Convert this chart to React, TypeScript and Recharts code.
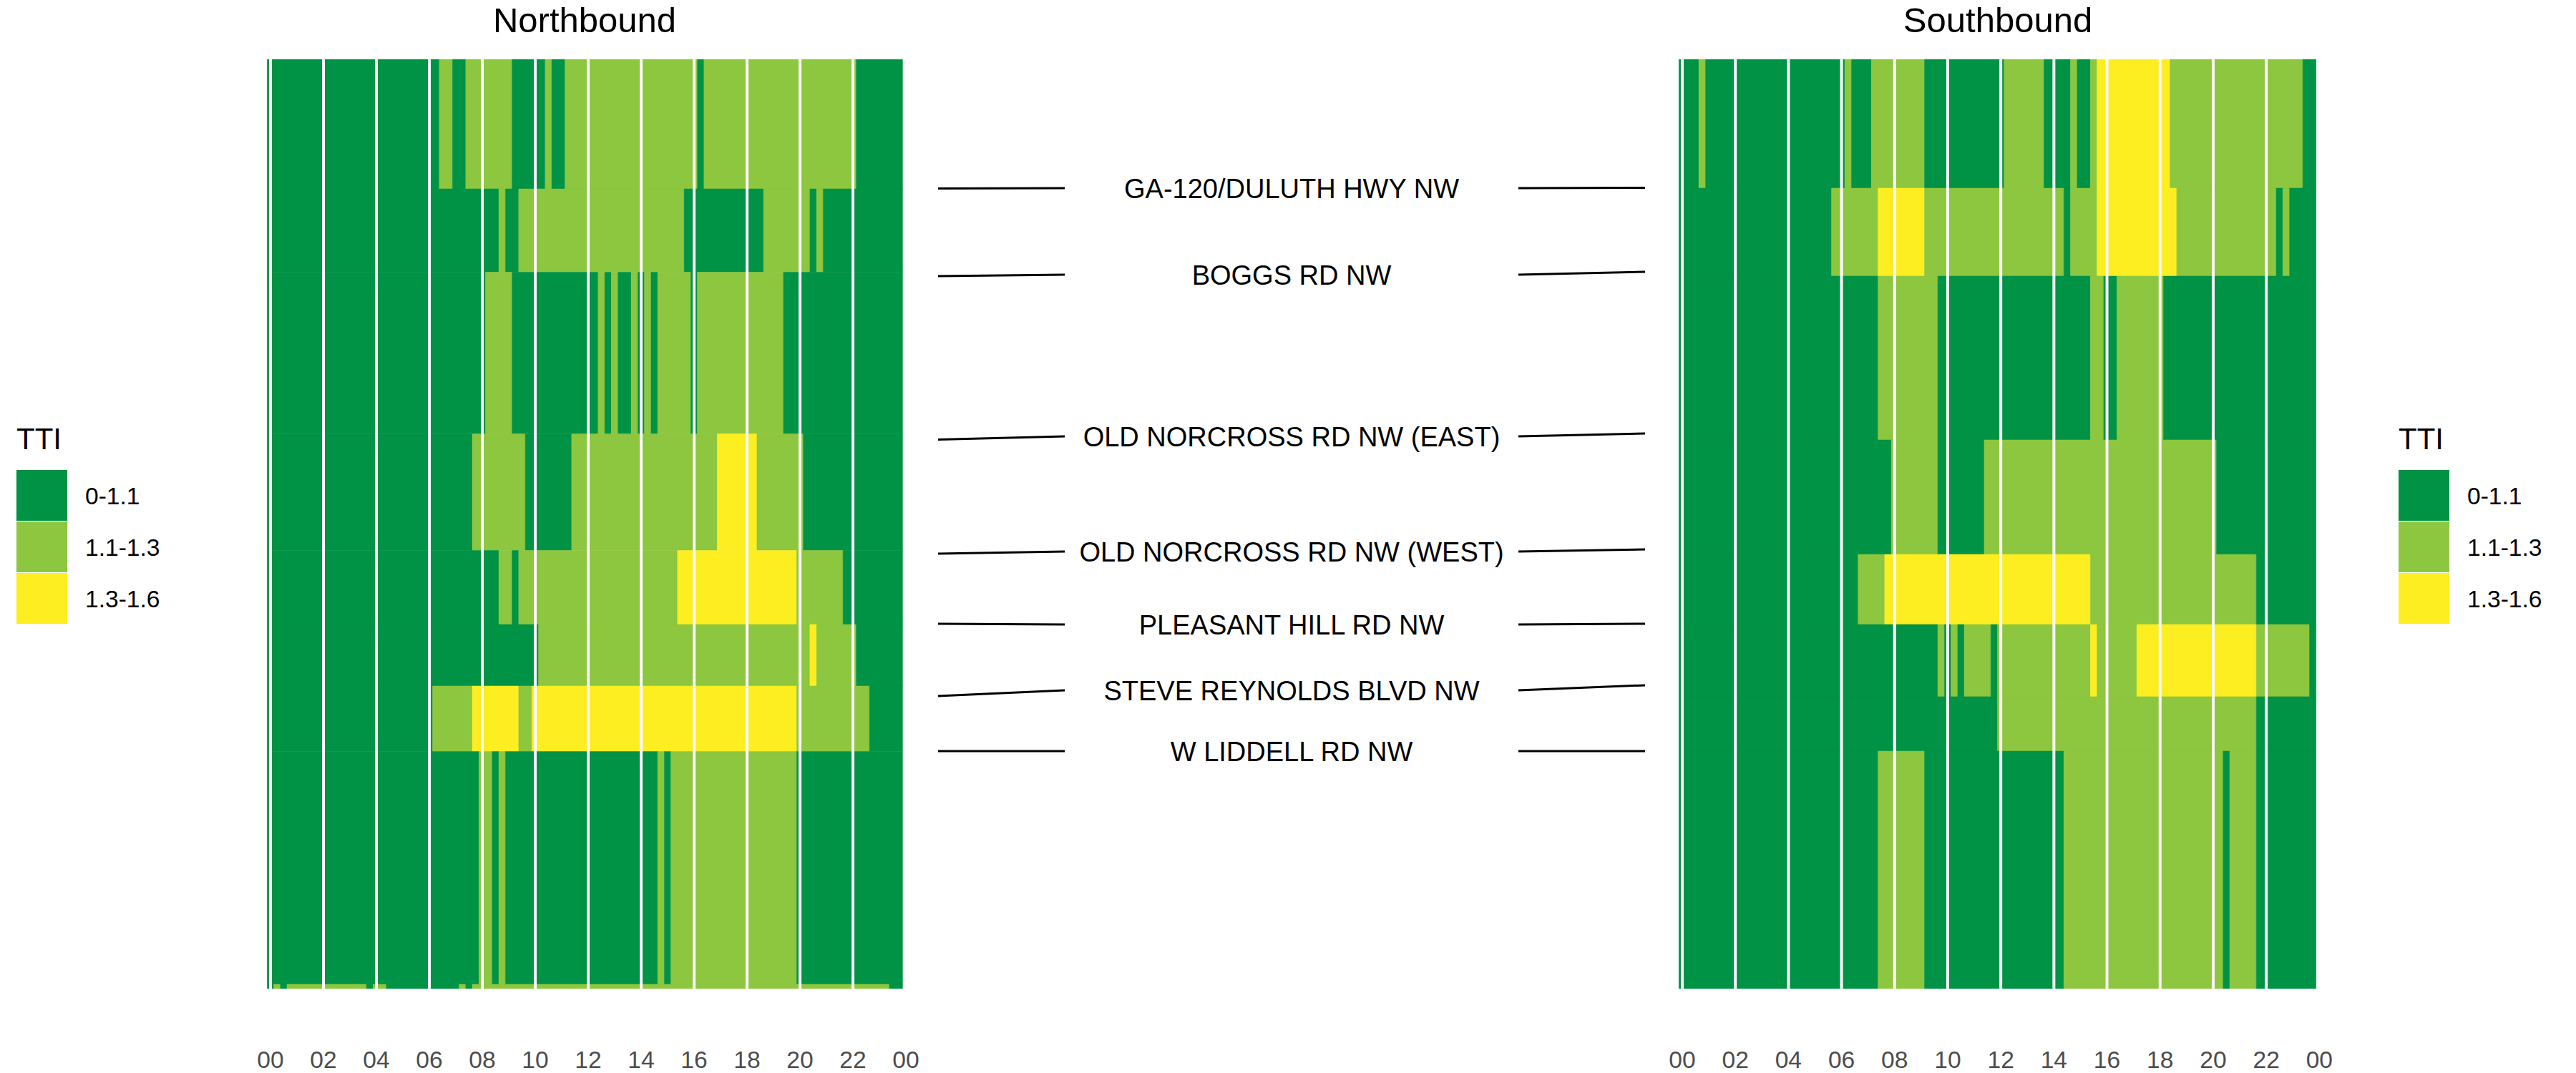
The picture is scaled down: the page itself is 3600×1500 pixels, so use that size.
import React from "react"
import { ComposedChart, XAxis, YAxis, ReferenceArea, ReferenceLine, Scatter } from "recharts"

const FONT = '"Liberation Sans", Arial, Helvetica, sans-serif'

// TTI classes
const ttiBins = ["0-1.1", "1.1-1.3", "1.3-1.6"]
const ttiColors = ["#009245", "#8DC63F", "#FCEE21"]

const hourTicks = [0, 2, 4, 6, 8, 10, 12, 14, 16, 18, 20, 22, 24]
const BIN_HALF = 0.125 // 15-min bins, tiles centred on bin start

// segment edges along the corridor (miles from the top of the panel)
const northEdges = [0, 0.906, 1.489, 2.62, 3.435, 3.953, 4.383, 4.841, 6.47, 6.5]
const southEdges = [0, 0.901, 1.516, 2.662, 3.463, 3.953, 4.458, 4.839, 6.5]

// runs per segment: [from hour, to hour, tti class]
const northRuns: number[][][] = [
  [[0, 6.5, 0], [6.5, 7, 1], [7, 7.5, 0], [7.5, 9.25, 1], [9.25, 10.5, 0], [10.5, 10.75, 1], [10.75, 11.25, 0], [11.25, 16.25, 1], [16.25, 16.5, 0], [16.5, 22.25, 1], [22.25, 24, 0]],
  [[0, 8.75, 0], [8.75, 9, 1], [9, 9.5, 0], [9.5, 15.75, 1], [15.75, 18.75, 0], [18.75, 20.5, 1], [20.5, 20.75, 0], [20.75, 21, 1], [21, 24, 0]],
  [[0, 8.25, 0], [8.25, 9.25, 1], [9.25, 12.5, 0], [12.5, 12.75, 1], [12.75, 13, 0], [13, 13.25, 1], [13.25, 13.75, 0], [13.75, 14, 1], [14, 14.25, 0], [14.25, 14.5, 1], [14.5, 14.75, 0], [14.75, 16, 1], [16, 16.25, 0], [16.25, 19.5, 1], [19.5, 24, 0]],
  [[0, 7.75, 0], [7.75, 9.75, 1], [9.75, 11.5, 0], [11.5, 17, 1], [17, 18.5, 2], [18.5, 20.25, 1], [20.25, 24, 0]],
  [[0, 8.75, 0], [8.75, 9.25, 1], [9.25, 9.5, 0], [9.5, 15.5, 1], [15.5, 20, 2], [20, 21.75, 1], [21.75, 24, 0]],
  [[0, 10.25, 0], [10.25, 20.5, 1], [20.5, 20.75, 2], [20.75, 22.25, 1], [22.25, 24, 0]],
  [[0, 6.25, 0], [6.25, 7.75, 1], [7.75, 9.5, 2], [9.5, 10, 1], [10, 20, 2], [20, 22.75, 1], [22.75, 24, 0]],
  [[0, 8, 0], [8, 8.5, 1], [8.5, 8.75, 0], [8.75, 9, 1], [9, 14.75, 0], [14.75, 15, 1], [15, 15.25, 0], [15.25, 20, 1], [20, 24, 0]],
  [[0, 0.25, 0], [0.25, 0.5, 1], [0.5, 0.75, 0], [0.75, 3.75, 1], [3.75, 4, 0], [4, 4.5, 1], [4.5, 7.25, 0], [7.25, 7.5, 1], [7.5, 7.75, 0], [7.75, 23.5, 1], [23.5, 24, 0]],
]

const southRuns: number[][][] = [
  [[0, 0.75, 0], [0.75, 1, 1], [1, 6.25, 0], [6.25, 6.5, 1], [6.5, 7.25, 0], [7.25, 9.25, 1], [9.25, 12.25, 0], [12.25, 13.75, 1], [13.75, 14.75, 0], [14.75, 15, 1], [15, 15.5, 0], [15.5, 15.75, 1], [15.75, 18.5, 2], [18.5, 23.5, 1], [23.5, 24, 0]],
  [[0, 5.75, 0], [5.75, 7.5, 1], [7.5, 9.25, 2], [9.25, 14.5, 1], [14.5, 14.75, 0], [14.75, 15.75, 1], [15.75, 18.75, 2], [18.75, 22.5, 1], [22.5, 22.75, 0], [22.75, 23, 1], [23, 24, 0]],
  [[0, 7.5, 0], [7.5, 9.75, 1], [9.75, 15.5, 0], [15.5, 16, 1], [16, 16.5, 0], [16.5, 18.25, 1], [18.25, 24, 0]],
  [[0, 8, 0], [8, 9.75, 1], [9.75, 11.5, 0], [11.5, 20.25, 1], [20.25, 24, 0]],
  [[0, 6.75, 0], [6.75, 7.75, 1], [7.75, 15.5, 2], [15.5, 21.75, 1], [21.75, 24, 0]],
  [[0, 9.75, 0], [9.75, 10, 1], [10, 10.25, 0], [10.25, 10.5, 1], [10.5, 10.75, 0], [10.75, 11.75, 1], [11.75, 12, 0], [12, 15.5, 1], [15.5, 15.75, 2], [15.75, 17.25, 1], [17.25, 21.75, 2], [21.75, 23.75, 1], [23.75, 24, 0]],
  [[0, 12, 0], [12, 21.75, 1], [21.75, 24, 0]],
  [[0, 7.5, 0], [7.5, 9.25, 1], [9.25, 14.5, 0], [14.5, 20.5, 1], [20.5, 20.75, 0], [20.75, 21.75, 1], [21.75, 24, 0]],
]

// cross streets in the middle panel
const crossStreets = [
  "GA-120/DULUTH HWY NW",
  "BOGGS RD NW",
  "OLD NORCROSS RD NW (EAST)",
  "OLD NORCROSS RD NW (WEST)",
  "PLEASANT HILL RD NW",
  "STEVE REYNOLDS BLVD NW",
  "W LIDDELL RD NW",
]
const streetMile = [0.901, 1.506, 2.637, 3.443, 3.953, 4.413, 4.839]
const leftTickMile = [0.903, 1.516, 2.659, 3.458, 3.948, 4.453, 4.839]
const rightTickMile = [0.898, 1.486, 2.617, 3.428, 3.948, 4.378, 4.839]

const MILE_DOMAIN = [0, 6.5]
const HOUR_DOMAIN = [-0.15, 24.05]

const fmtHour = (h: number) => String(h % 24).padStart(2, "0")

function Heatmap({ runs, edges, width, left, right }: { runs: number[][][]; edges: number[]; width: number; left: number; right: number }) {
  const tiles = runs.flatMap((row, i) =>
    row.map(([from, to, level]) => ({
      x1: from - BIN_HALF,
      x2: to - BIN_HALF,
      y1: edges[i],
      y2: edges[i + 1],
      level,
      x: (from + to) / 2 - BIN_HALF,
      y: (edges[i] + edges[i + 1]) / 2,
    }))
  )
  return (
    <ComposedChart width={width} height={1500} data={tiles} margin={{ top: 83, right, bottom: 0, left }}>
      <XAxis
        type="number"
        dataKey="x"
        domain={HOUR_DOMAIN}
        allowDataOverflow
        ticks={hourTicks}
        interval={0}
        tickFormatter={fmtHour}
        axisLine={false}
        tickLine={false}
        tickSize={0}
        tickMargin={87}
        height={118}
        tick={{ fontSize: 33.6, fill: "#4D4D4D", fontFamily: FONT }}
      />
      <YAxis type="number" dataKey="y" domain={MILE_DOMAIN} allowDataOverflow reversed hide width={0} />
      {tiles.map((t, i) => (
        <ReferenceArea
          key={i}
          x1={t.x1}
          x2={t.x2}
          y1={t.y1}
          y2={t.y2}
          fill={ttiColors[t.level]}
          fillOpacity={1}
          stroke={ttiColors[t.level]}
          strokeWidth={0.5}
          ifOverflow="visible"
        />
      ))}
      {hourTicks
        .filter((h) => h < 24)
        .map((h) => (
          <ReferenceLine key={"g" + h} x={h} stroke="#ffffff" strokeWidth={4} ifOverflow="visible" />
        ))}
      <Scatter data={tiles} dataKey="y" shape={() => <g />} isAnimationActive={false} />
    </ComposedChart>
  )
}

function StreetLabels() {
  const pts = crossStreets.map((name, i) => ({ name, x: 2.79, y: streetMile[i] }))
  return (
    <ComposedChart width={1100} height={1500} data={pts} margin={{ top: 83, right: 81, bottom: 118, left: 31 }}>
      <XAxis type="number" dataKey="x" domain={[0, 5.58]} hide />
      <YAxis type="number" dataKey="y" domain={MILE_DOMAIN} reversed hide width={0} />
      {crossStreets.map((n, i) => (
        <ReferenceLine
          key={"l" + i}
          segment={[
            { x: 0, y: leftTickMile[i] },
            { x: 1, y: streetMile[i] },
          ]}
          stroke="#000"
          strokeWidth={3}
        />
      ))}
      {crossStreets.map((n, i) => (
        <ReferenceLine
          key={"r" + i}
          segment={[
            { x: 4.58, y: streetMile[i] },
            { x: 5.58, y: rightTickMile[i] },
          ]}
          stroke="#000"
          strokeWidth={3}
        />
      ))}
      <Scatter
        data={pts}
        dataKey="y"
        isAnimationActive={false}
        shape={(p: any) => (
          <text x={p.cx} y={p.cy} dy="0.36em" textAnchor="middle" fontSize={38} fontFamily={FONT} fill="#000">
            {p.payload.name}
          </text>
        )}
      />
    </ComposedChart>
  )
}

function LegendBlock({ x }: { x: number }) {
  return (
    <g fontFamily={FONT}>
      <text x={x} y={628} fontSize={42} fill="#000">
        TTI
      </text>
      {ttiBins.map((b, i) => (
        <g key={b}>
          <rect x={x} y={657 + i * 72} width={71} height={71} fill={ttiColors[i]} />
          <text x={x + 96} y={705 + i * 72} fontSize={33.6} fill="#000">
            {b}
          </text>
        </g>
      ))}
    </g>
  )
}

export default function App() {
  return (
    <div style={{ position: "absolute", left: 0, top: 0, width: 3600, height: 1500, background: "#fff" }}>
      <div style={{ position: "absolute", left: 0, top: 0 }}>
        <Heatmap runs={northRuns} edges={northEdges} width={1300} left={372.45} right={32.15} />
      </div>
      <div style={{ position: "absolute", left: 1280, top: 0 }}>
        <StreetLabels />
      </div>
      <div style={{ position: "absolute", left: 2300, top: 0 }}>
        <Heatmap runs={southRuns} edges={southEdges} width={1000} left={45.4} right={56.8} />
      </div>
      <svg width={3600} height={1500} style={{ position: "absolute", left: 0, top: 0, pointerEvents: "none" }}>
        <text x={817} y={45} fontSize={49} fontFamily={FONT} textAnchor="middle" fill="#000">
          Northbound
        </text>
        <text x={2792} y={45} fontSize={49} fontFamily={FONT} textAnchor="middle" fill="#000">
          Southbound
        </text>
        <LegendBlock x={23} />
        <LegendBlock x={3352} />
      </svg>
    </div>
  )
}
